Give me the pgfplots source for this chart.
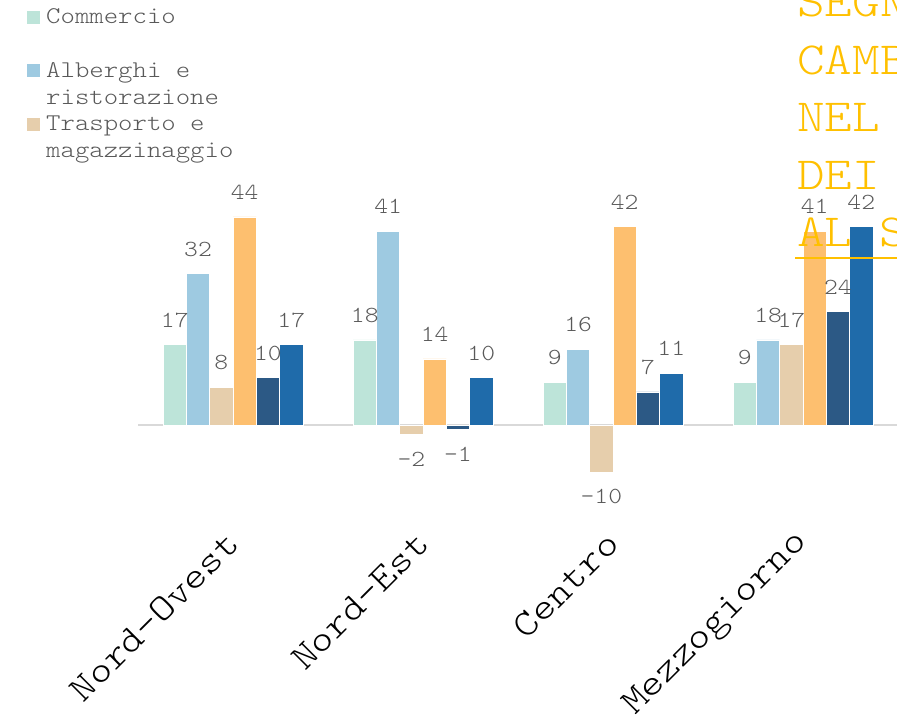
\documentclass[border=0pt]{standalone}
\usepackage{pgfplots}
\pgfplotsset{compat=1.18}
\usepackage{fontspec}
\newfontfamily\cour[FakeStretch=1.143]{lmmonolt10-regular.otf}
\setmainfont{Liberation Mono}
\definecolor{cComm}{HTML}{BDE4D9}
\definecolor{cAlb}{HTML}{9ECAE1}
\definecolor{cTra}{HTML}{E6CEAC}
\definecolor{cOra}{HTML}{FDBF6F}
\definecolor{cDkb}{HTML}{2C5985}
\definecolor{cBlu}{HTML}{1F6BAA}
\definecolor{cLab}{HTML}{595959}
\definecolor{cTit}{HTML}{FFC000}
\definecolor{cZero}{HTML}{D9D9D9}
\begin{document}
\begin{tikzpicture}
\path[use as bounding box, clip] (0pt,0pt) rectangle (897pt,721pt);
\begin{axis}[
  at={(138pt,187.2pt)}, anchor=south west,
  scale only axis, width=760pt, height=321.6pt,
  xmin=-0.5, xmax=3.5, ymin=-23, ymax=45,
  ybar=0pt, bar width=23.3pt,
  axis line style={draw=none},
  ytick=\empty,
  xtick={0,1,2,3},
  xticklabels={Nord-Ovest,Nord-Est,Centro,Mezzogiorno},
  xtick style={draw=none},
  xticklabel style={rotate=45, anchor=east, inner sep=0pt,
    font=\cour\fontsize{37}{40}\selectfont, text=black},
  extra y ticks={0}, extra y tick labels={},
  extra y tick style={grid=major, major grid style={draw=cZero, line width=2pt}, tick style={draw=none}},
  clip=false,
  nodes near coords={\pgfmathprintnumber[assume math mode=true]{\pgfplotspointmeta}},
  every node near coord/.append style={font=\cour\fontsize{23}{26}\selectfont, text=cLab, inner xsep=0pt, inner ysep=17pt},
  legend style={at={(-0.15,1.652)}, anchor=north west, draw=none, fill=none,
    font=\cour\fontsize{24}{27}\selectfont, text=cLab,
    nodes={inner sep=0pt, align=left}, column sep=6pt, row sep=6pt},
  legend cell align=left,
  legend image code/.code={\fill[#1,draw=none] (0pt,4.5pt) rectangle (13pt,17.5pt);},
]
\addplot[fill=cComm, draw=white, line width=0.6pt] coordinates {(0,17) (1,18) (2,9) (3,9)};
\addlegendentry{\strut Commercio\\\strut}
\addplot[fill=cAlb, draw=white, line width=0.6pt] coordinates {(0,32) (1,41) (2,16) (3,18)};
\addlegendentry{\strut Alberghi e\\\strut ristorazione}
\addplot[fill=cTra, draw=white, line width=0.6pt] coordinates {(0,8) (1,-2) (2,-10) (3,17)};
\addlegendentry{\strut Trasporto e\\\strut magazzinaggio}
\addplot[fill=cOra, draw=white, line width=0.6pt] coordinates {(0,44) (1,14) (2,42) (3,41)};
\addplot[fill=cDkb, draw=white, line width=0.6pt] coordinates {(0,10) (1,-1) (2,7) (3,24)};
\addplot[fill=cBlu, draw=white, line width=0.6pt] coordinates {(0,17) (1,10) (2,11) (3,42)};
\end{axis}
\begin{scope}[every node/.style={anchor=base west, inner sep=0pt, text=cTit, font=\cour\fontsize{46}{50}\selectfont}]
\node at (797pt,704pt) {SEGNALI};
\node at (797pt,646.5pt) {CAMBIAMENTO};
\node at (797pt,589pt) {NEL SETTORE};
\node at (797pt,531.5pt) {DEI SERVIZI};
\node at (797pt,474pt) {AL SUD};
\draw[cTit, line width=2pt] (795pt,463pt) -- (900pt,463pt);
\end{scope}
\end{tikzpicture}
\end{document}
